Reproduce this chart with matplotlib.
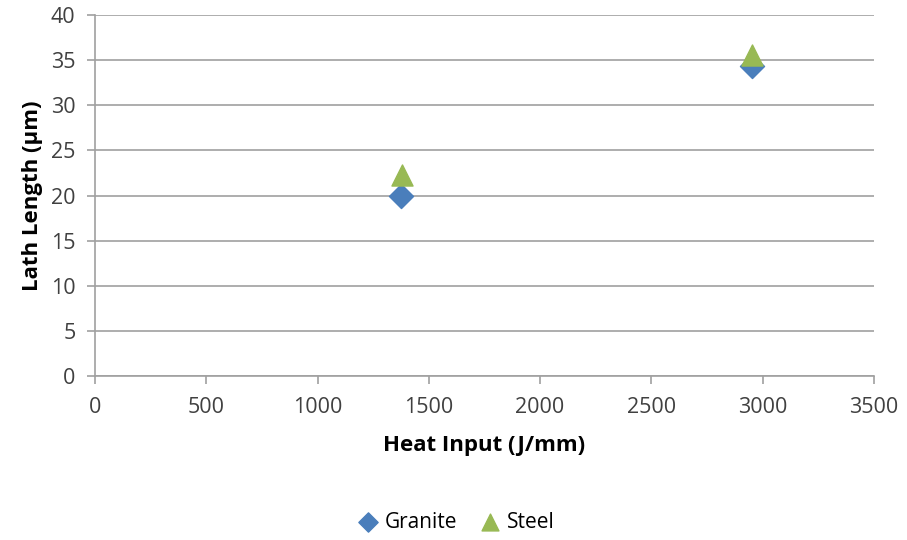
import matplotlib.pyplot as plt

# data
granite_x = [1375, 2950]
granite_y = [20.0, 34.4]
steel_x = [1380, 2950]
steel_y = [22.3, 35.6]

x_ticks = [0, 500, 1000, 1500, 2000, 2500, 3000, 3500]
y_ticks = [0, 5, 10, 15, 20, 25, 30, 35, 40]

plt.rcParams['font.family'] = ['Open Sans', 'DejaVu Sans']

fig = plt.figure(figsize=(9.07, 5.4), dpi=100)
ax = fig.add_axes([0.1047, 0.3037, 0.8589, 0.6685])

ax.scatter(granite_x, granite_y, marker='D', s=150, color='#4a7ebb', label='Granite', zorder=3)
ax.scatter(steel_x, steel_y, marker='^', s=230, color='#98b954', label='Steel', zorder=4)

ax.set_xlim(0, 3500)
ax.set_ylim(0, 40)
ax.set_xticks(x_ticks)
ax.set_yticks(y_ticks)
ax.grid(axis='y', color='#a0a0a0', linewidth=1.2)
ax.set_axisbelow(True)

for side in ['top', 'right']:
    ax.spines[side].set_visible(False)
for side in ['left', 'bottom']:
    ax.spines[side].set_color('#a0a0a0')
    ax.spines[side].set_linewidth(1.2)

ax.tick_params(axis='both', colors='#a0a0a0', length=6, width=1.2, labelsize=15.5,
               labelcolor='#404040')
ax.tick_params(axis='x', pad=9)
ax.tick_params(axis='y', pad=8)

ax.set_xlabel('Heat Input (J/mm)', fontsize=16, fontweight='bold', labelpad=12)
ax.set_ylabel('Lath Length (µm)', fontsize=16, fontweight='bold', labelpad=6)

fig.legend(loc='center', bbox_to_anchor=(0.497, 0.033), ncol=2, frameon=False,
           fontsize=15, handletextpad=-0.2, columnspacing=0.6, markerscale=0.8)

fig.savefig('out.png', dpi=100)
